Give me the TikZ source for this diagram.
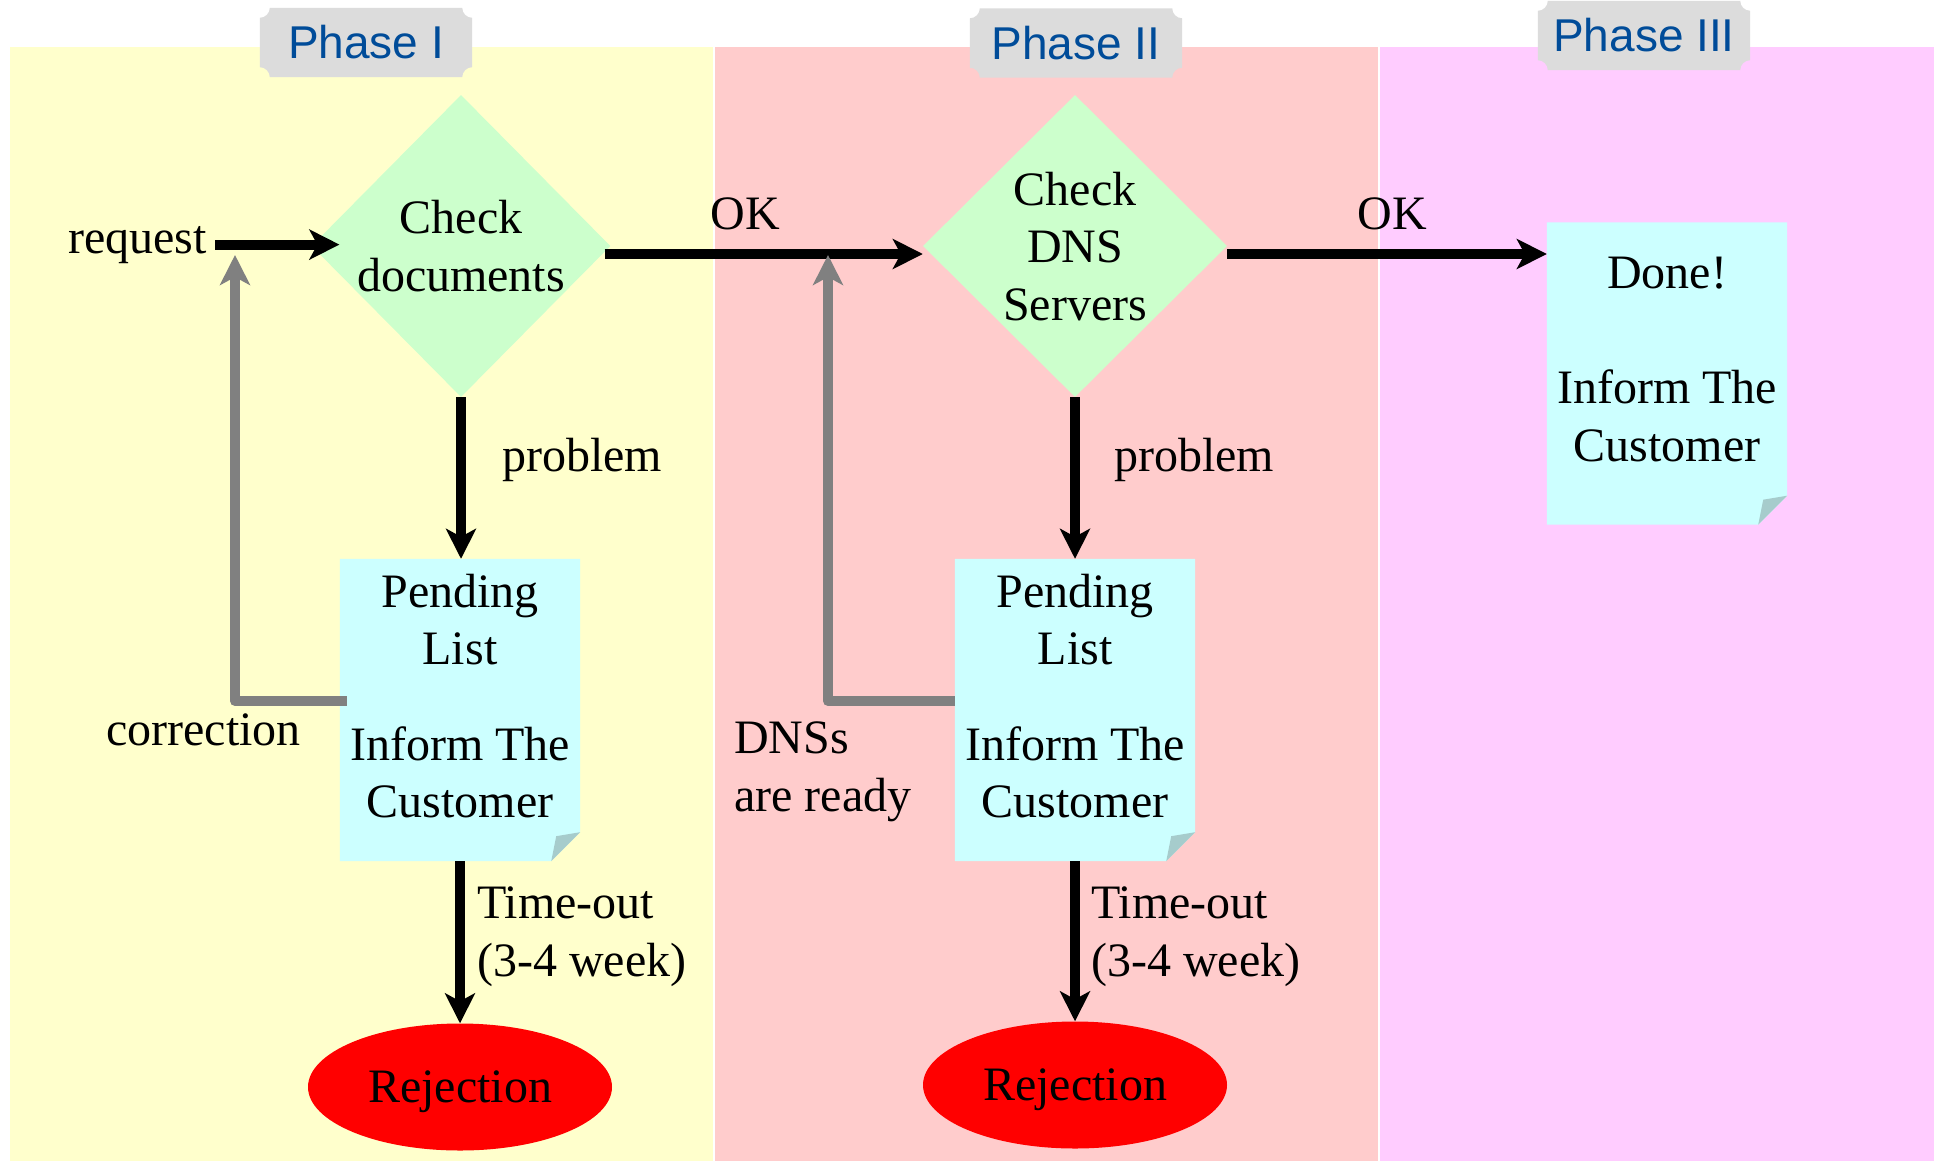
\documentclass[tikz,border=0pt]{standalone}
\usepackage{fontspec}
\setmainfont{Liberation Serif}
\newfontfamily\phasefont{Liberation Sans}
\usetikzlibrary{shapes.geometric,arrows.meta}

\definecolor{phaseoneyellow}{RGB}{255,255,204}
\definecolor{phasetwopink}{RGB}{255,204,204}
\definecolor{phasethreepink}{RGB}{255,204,255}
\definecolor{tabgray}{RGB}{220,220,220}
\definecolor{phaseblue}{RGB}{0,76,153}
\definecolor{checkgreen}{RGB}{204,255,204}
\definecolor{notecyan}{RGB}{204,255,255}
\definecolor{foldgray}{RGB}{166,204,204}

\pgfdeclarelayer{back}
\pgfsetlayers{back,main}

\tikzset{
  flow/.style={line width=10pt,-{Stealth[length=30pt,width=30pt,inset=8pt]}},
  loopback/.style={flow,draw=gray,line join=round},
  check/.style={diamond,fill=checkgreen,inner sep=0pt,minimum width=298pt,minimum height=302pt,text depth=-5pt,align=center},
  note/.style={rectangle,inner sep=0pt,minimum width=240pt,minimum height=302pt,text depth=28pt,align=center},
  reject/.style={ellipse,fill=red,inner sep=0pt,minimum width=304pt,minimum height=127pt,text depth=0pt},
  lbl/.style={inner sep=0pt,align=left},
  phase/.style={inner sep=0pt,minimum width=212pt,minimum height=69pt,text=phaseblue,font=\phasefont\fontsize{46}{50}\selectfont},
}

\begin{document}
\begin{tikzpicture}[x=1pt,y=-1pt,font=\fontsize{48}{57.5}\selectfont]

\useasboundingbox (0,0) rectangle (1934,1161);

\foreach \t/\cx/\cy/\txt in {ph1/366/42.5/Phase I,ph2/1076/43/Phase II,ph3/1644/35.5/Phase III}
	\node[phase] (\t) at (\cx,\cy) {\txt};

\node[check] (d1) at (461,246) {Check\\documents};
\node[check,minimum width=304pt] (d2) at (1075,246) {Check\\DNS\\Servers};

\node[note] (pend1) at (460,710) {Pending\\List\\[38pt]Inform The\\Customer};
\node[note] (pend2) at (1075,710) {Pending\\List\\[38pt]Inform The\\Customer};
\node[note] (done) at (1667,373.5) {Done!\\[57.5pt]Inform The\\Customer};

\node[reject] (rej1) at (460,1087) {Rejection};
\node[reject] (rej2) at (1075,1085) {Rejection};

\node[lbl,anchor=base east,inner xsep=8pt] (req) at (215,253) {request};
\node[lbl,anchor=base] (ok1) at (745,229) {OK};
\node[lbl,anchor=base] (ok2) at (1392,229) {OK};
\node[lbl,anchor=base west] (prob1) at (502,471) {problem};
\node[lbl,anchor=base west] (prob2) at (1114,471) {problem};
\node[lbl,anchor=base west] (fix) at (106,745) {correction};
\node[lbl,anchor=north west] (ready) at (734,722) {DNSs\\are ready};
\node[lbl,anchor=north west] (wait1) at (477,887) {Time-out\\(3-4 week)};
\node[lbl,anchor=north west] (wait2) at (1091,887) {Time-out\\(3-4 week)};

\coordinate (fixtip) at (235,255);
\coordinate (readytip) at (828,255);

\draw[flow] (req.east) -- ([xshift=28pt]req.east -| d1.west);
\draw[flow] ([xshift=-6pt,yshift=-8pt]d1.east) -- ([yshift=-8pt]d2.west);
\draw[flow] ([yshift=-8pt]d2.east) -- ([yshift=-8pt]d2.east -| done.west);
\draw[flow] (d1.south) -- (d1.south |- pend1.north);
\draw[flow] (d2.south) -- (d2.south |- pend2.north);
\draw[flow] (pend1.south) -- (rej1.north);
\draw[flow] (pend2.south) -- (rej2.north);
\draw[loopback] ([xshift=7pt,yshift=9pt]pend1.west) -| (fixtip);
\draw[loopback] ([yshift=9pt]pend2.west) -| (readytip);

\begin{pgfonlayer}{back}
\fill[white] (0,0) rectangle (1934,1161);
\fill[phaseoneyellow] (10,47) rectangle (713,1161);
\fill[phasetwopink] (715,47) rectangle (1378,1161);
\fill[phasethreepink] (1380,47) rectangle (1934,1161);

\foreach \t in {ph1,ph2,ph3}
	\fill[tabgray] ([xshift=10pt]\t.north west) -- ([xshift=-10pt]\t.north east)
		arc[start angle=180,end angle=270,radius=10pt] -- ([yshift=10pt]\t.south east)
		arc[start angle=90,end angle=180,radius=10pt] -- ([xshift=10pt]\t.south west)
		arc[start angle=0,end angle=90,radius=10pt] -- ([yshift=-10pt]\t.north west)
		arc[start angle=270,end angle=360,radius=10pt] -- cycle;

\foreach \n in {pend1,pend2,done}{
	\fill[notecyan] (\n.north west) -- (\n.north east) -- ([yshift=29pt]\n.south east)
		-- ([xshift=-29pt]\n.south east) -- (\n.south west) -- cycle;
	\fill[foldgray] ([xshift=-29pt]\n.south east) -- ([yshift=29pt]\n.south east)
		-- ([xshift=-24pt,yshift=25pt]\n.south east) -- cycle;
}
\end{pgfonlayer}

\end{tikzpicture}
\end{document}
